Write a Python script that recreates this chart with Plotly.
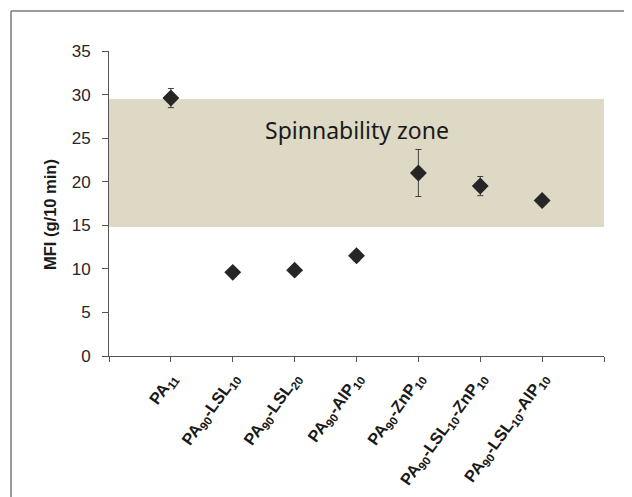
import plotly.graph_objects as go

# ---- data ----
categories = ["", "PA<sub>11</sub>", "PA<sub>90</sub>-LSL<sub>10</sub>", "PA<sub>90</sub>-LSL<sub>20</sub>",
              "PA<sub>90</sub>-AlP<sub>10</sub>", "PA<sub>90</sub>-ZnP<sub>10</sub>",
              "PA<sub>90</sub>-LSL<sub>10</sub>-ZnP<sub>10</sub>", "PA<sub>90</sub>-LSL<sub>10</sub>-AlP<sub>10</sub>", ""]
samples = categories[1:8]
mfi = [29.6, 9.6, 9.85, 11.5, 21.0, 19.5, 17.85]
mfi_err = [1.1, 0.0, 0.0, 0.6, 2.7, 1.1, 0.3]
zone_low, zone_high = 14.8, 29.5
zone_label = "Spinnability zone"
y_ticks = [0, 5, 10, 15, 20, 25, 30, 35]

x_pos = list(range(1, len(samples) + 1))
tick_pos = list(range(len(categories)))

# plot area pixel geometry (page has an 8px body offset)
OFF = 8
W, H = 632, 497
L, R, T, B = 101, 36, 43, 149
pw, ph = W - L - R, H - T - B

def px_x(p):
    return (p - OFF - L) / pw

def px_y(p):
    return (H - B - (p - OFF)) / ph

fig = go.Figure()

fig.add_trace(go.Scatter(
    x=x_pos, y=mfi, mode="markers",
    marker=dict(symbol="diamond", size=13, color="#262626", line=dict(width=0)),
    error_y=dict(type="data", array=mfi_err, visible=True, color="#404040", thickness=1, width=3),
    showlegend=False, cliponaxis=False,
))

shapes = [
    dict(type="rect", xref="x", yref="y", x0=0, x1=8, y0=zone_low, y1=zone_high,
         fillcolor="#DDD9C4", line=dict(width=0), layer="below"),
    # outer frame (partially cropped)
    dict(type="line", xref="paper", yref="paper", x0=px_x(11), x1=px_x(660), y0=px_y(11), y1=px_y(11),
         line=dict(color="#7a7a7a", width=1.5)),
    dict(type="line", xref="paper", yref="paper", x0=px_x(11), x1=px_x(11), y0=px_y(11), y1=px_y(520),
         line=dict(color="#7a7a7a", width=1.5)),
]

annotations = [
    dict(x=4, y=25.9, xref="x", yref="y", text=zone_label, showarrow=False,
         font=dict(family="Noto Sans", size=23, color="#1a1a1a")),
    dict(x=px_x(39), y=px_y(215), xref="paper", yref="paper", text="<b>MFI (g/10 min)</b>",
         textangle=-90, showarrow=False, font=dict(family="Liberation Sans", size=16.5, color="#1a1a1a")),
]

fig.update_layout(
    width=W, height=H,
    margin=dict(l=L, r=R, t=T, b=B, autoexpand=False),
    paper_bgcolor="white", plot_bgcolor="white",
    shapes=shapes, annotations=annotations,
    xaxis=dict(range=[0, 8], tickvals=tick_pos, ticktext=["<b>" + c + "</b>" if c else "" for c in categories],
               tickangle=-54, showgrid=False, zeroline=False, showline=True, linecolor="#555555", linewidth=1,
               ticks="outside", ticklen=5, tickcolor="#555555",
               tickfont=dict(family="Liberation Sans", size=16.5, color="#1a1a1a")),
    yaxis=dict(range=[0, 35], tickvals=y_ticks, showgrid=False, zeroline=False, showline=True,
               linecolor="#555555", linewidth=1, ticks="outside", ticklen=6, tickcolor="#555555",
               ticklabelstandoff=8,
               tickfont=dict(family="Liberation Sans", size=17, color="#262626")),
)

fig.write_html("out.html")
